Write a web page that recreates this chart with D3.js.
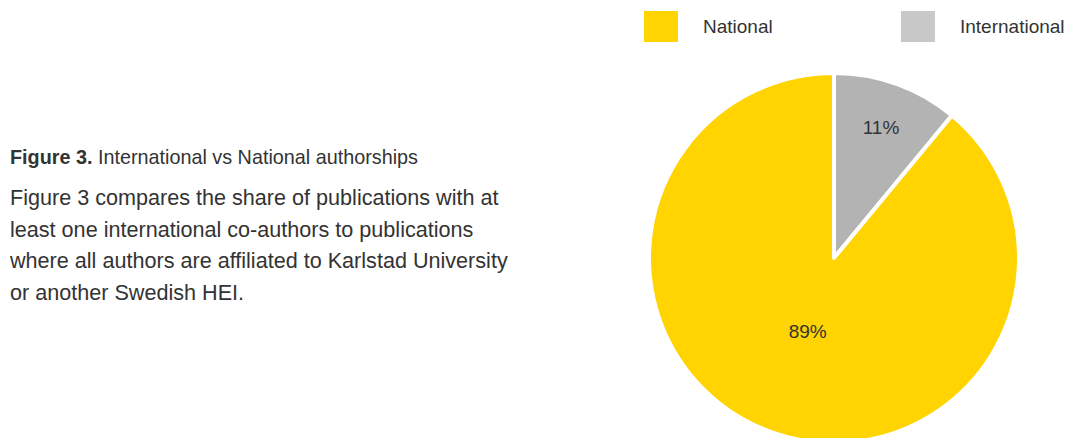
<!DOCTYPE html>
<html>
<head>
<meta charset="utf-8">
<script src="https://cdn.jsdelivr.net/npm/d3@7"></script>
<style>
  body { margin: 0; background: #fff; }
  svg text { font-family: "Liberation Sans", Arial, sans-serif; fill: #333; }
</style>
</head>
<body>
<div id="content"></div>
<script>
// data
var categories = ['International', 'National'];
var values = [11, 89];
var labels = ['11%', '89%'];
var legendOrder = ['National', 'International'];

var sliceColor = { International: '#b3b3b3', National: '#ffd400' };
var legendColor = { International: '#c8c8c8', National: '#ffd400' };
var labelPos = { International: 0.75, National: 0.42 };

var init = init();
drawText(init.svg);
drawLegend(init.svg);
drawPie(init.svg);

function init(){
	var width = 1070, height = 438;
	var svg = d3.select('#content').append('svg')
		.attr('width', width)
		.attr('height', height);
	return { svg: svg, width: width, height: height };
}

function drawText(svg){
	var title = svg.append('text').attr('x', 10).attr('y', 164).style('font-size', '19.8px');
	title.append('tspan').style('font-weight', 'bold').text('Figure 3.');
	title.append('tspan').text(' International vs National authorships');

	var lines = [
		'Figure 3 compares the share of publications with at',
		'least one international co-authors to publications',
		'where all authors are affiliated to Karlstad University',
		'or another Swedish HEI.'
	];
	svg.selectAll('.para').data(lines).enter().append('text')
		.attr('class', 'para')
		.attr('x', 10)
		.attr('y', function(d, i){ return 205 + i * 31.7; })
		.style('font-size', '21.6px')
		.text(function(d){ return d; });
}

function drawLegend(svg){
	var x = d3.scalePoint().domain(legendOrder).range([644, 901]);
	var g = svg.selectAll('.legend').data(legendOrder).enter().append('g')
		.attr('class', 'legend')
		.attr('transform', function(d){ return 'translate(' + x(d) + ',11)'; });
	g.append('rect').attr('width', 34).attr('height', 31)
		.attr('fill', function(d){ return legendColor[d]; });
	g.append('text').attr('x', 59).attr('y', 22)
		.style('font-size', '19px')
		.text(function(d){ return d; });
}

function drawPie(svg){
	var cx = 834, cy = 258, r = 185;
	var pie = d3.pie().sort(null).value(function(d){ return d.v; });
	var data = categories.map(function(c, i){ return { c: c, v: values[i], l: labels[i] }; });
	var arcs = pie(data);
	var arc = d3.arc().innerRadius(0).outerRadius(r);
	var g = svg.append('g').attr('transform', 'translate(' + cx + ',' + cy + ')');

	g.selectAll('path').data(arcs).enter().append('path')
		.attr('d', arc)
		.attr('fill', function(d){ return sliceColor[d.data.c]; })
		.attr('stroke', '#fff')
		.attr('stroke-width', 4)
		.attr('stroke-linejoin', 'round');

	g.selectAll('.lbl').data(arcs).enter().append('text')
		.attr('class', 'lbl')
		.attr('transform', function(d){
			var lr = r * labelPos[d.data.c];
			var a = d3.arc().innerRadius(lr).outerRadius(lr);
			return 'translate(' + a.centroid(d) + ')';
		})
		.attr('text-anchor', 'middle')
		.attr('dy', '0.35em')
		.style('font-size', '19px')
		.text(function(d){ return d.data.l; });
}
</script>
</body>
</html>
